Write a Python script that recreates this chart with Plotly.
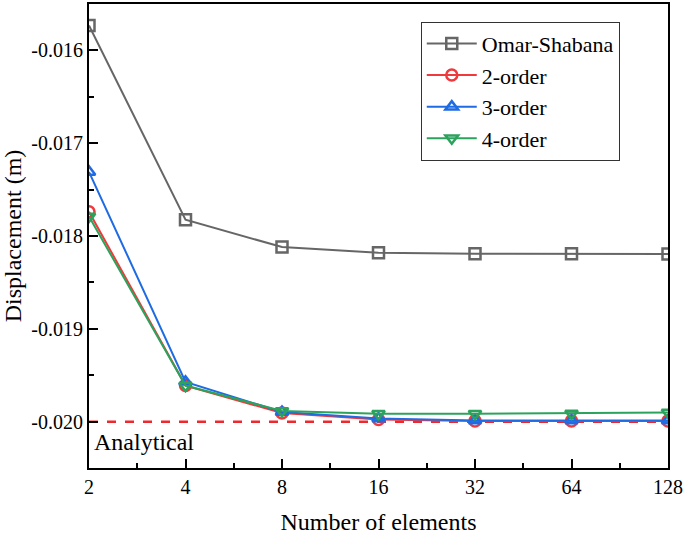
import numpy as np
import plotly.graph_objects as go

# ---- data ----
elements = [2, 4, 8, 16, 32, 64, 128]
x_tick_labels = ["2", "4", "8", "16", "32", "64", "128"]
omar_shabana = [-0.015734, -0.017824, -0.018119, -0.018179, -0.018190, -0.018190, -0.018194]
order2 = [-0.017740, -0.019610, -0.019905, -0.019976, -0.019990, -0.019990, -0.019990]
order3 = [-0.017310, -0.019570, -0.019895, -0.019965, -0.019985, -0.019985, -0.019985]
order4 = [-0.017790, -0.019610, -0.019883, -0.019912, -0.019912, -0.019910, -0.019900]
analytical = -0.020
y_tick_vals = [-0.016, -0.017, -0.018, -0.019, -0.020]
y_tick_labels = ["-0.016", "-0.017", "-0.018", "-0.019", "-0.020"]

xpos = list(np.log2(elements))

FONT = "'Liberation Serif', 'Times New Roman', serif"
fig = go.Figure()

# analytical line
fig.add_trace(go.Scatter(
    x=[xpos[0], xpos[-1]], y=[analytical, analytical], mode="lines",
    line=dict(color="#F0282D", width=2.5, dash="dash"), showlegend=False, hoverinfo="skip"))

series = [
    ("Omar-Shabana", omar_shabana, "#666666", "square-open"),
    ("2-order", order2, "#F0393C", "circle-open"),
    ("3-order", order3, "#1E6BE3", "triangle-up-open"),
    ("4-order", order4, "#2CA35C", "triangle-down-open"),
]
for name, vals, col, sym in series:
    fig.add_trace(go.Scatter(
        x=xpos, y=vals, name=name, mode="lines+markers",
        line=dict(color=col, width=2),
        marker=dict(symbol=sym, size=11, color=col, line=dict(color=col, width=2.5)),
    ))

fig.add_annotation(x=0.006, y=-0.02022, xref="paper", yref="y", text="Analytical",
                   showarrow=False, xanchor="left", yanchor="middle",
                   font=dict(family=FONT, size=24, color="black"))

fig.update_layout(
    width=685, height=535,
    margin=dict(l=89, r=15, t=2, b=65),
    paper_bgcolor="white", plot_bgcolor="white",
    font=dict(family=FONT, size=20, color="black"),
    showlegend=True,
    legend=dict(x=0.573, y=0.962, xanchor="left", yanchor="top",
                bgcolor="white", bordercolor="#333333", borderwidth=1,
                font=dict(family=FONT, size=22), itemwidth=50, tracegroupgap=0),
    xaxis=dict(
        range=[xpos[0], xpos[-1]], tickmode="array", tickvals=xpos, ticktext=x_tick_labels,
        ticks="inside", ticklen=9, tickwidth=2, tickcolor="black",
        showline=True, linecolor="black", linewidth=2, mirror=True,
        showgrid=False, zeroline=False,
        tickfont=dict(family=FONT, size=20),
        title=dict(text="Number of elements", font=dict(family=FONT, size=24), standoff=18),
        minor=dict(dtick=0.5, tick0=1, ticks="inside", ticklen=5, tickwidth=2, tickcolor="black", showgrid=False),
    ),
    yaxis=dict(
        range=[-0.020497, -0.015503], tickmode="array", tickvals=y_tick_vals, ticktext=y_tick_labels,
        ticks="inside", ticklen=9, tickwidth=2, tickcolor="black",
        showline=True, linecolor="black", linewidth=2, mirror=True,
        showgrid=False, zeroline=False,
        tickfont=dict(family=FONT, size=20),
        title=dict(text="Displacement (m)", font=dict(family=FONT, size=24), standoff=8),
        minor=dict(dtick=0.0005, tick0=-0.0205, ticks="inside", ticklen=5, tickwidth=2, tickcolor="black", showgrid=False),
    ),
)

fig.write_html("out.html", config={"displayModeBar": False},
               post_script="document.body.style.margin='0';")
